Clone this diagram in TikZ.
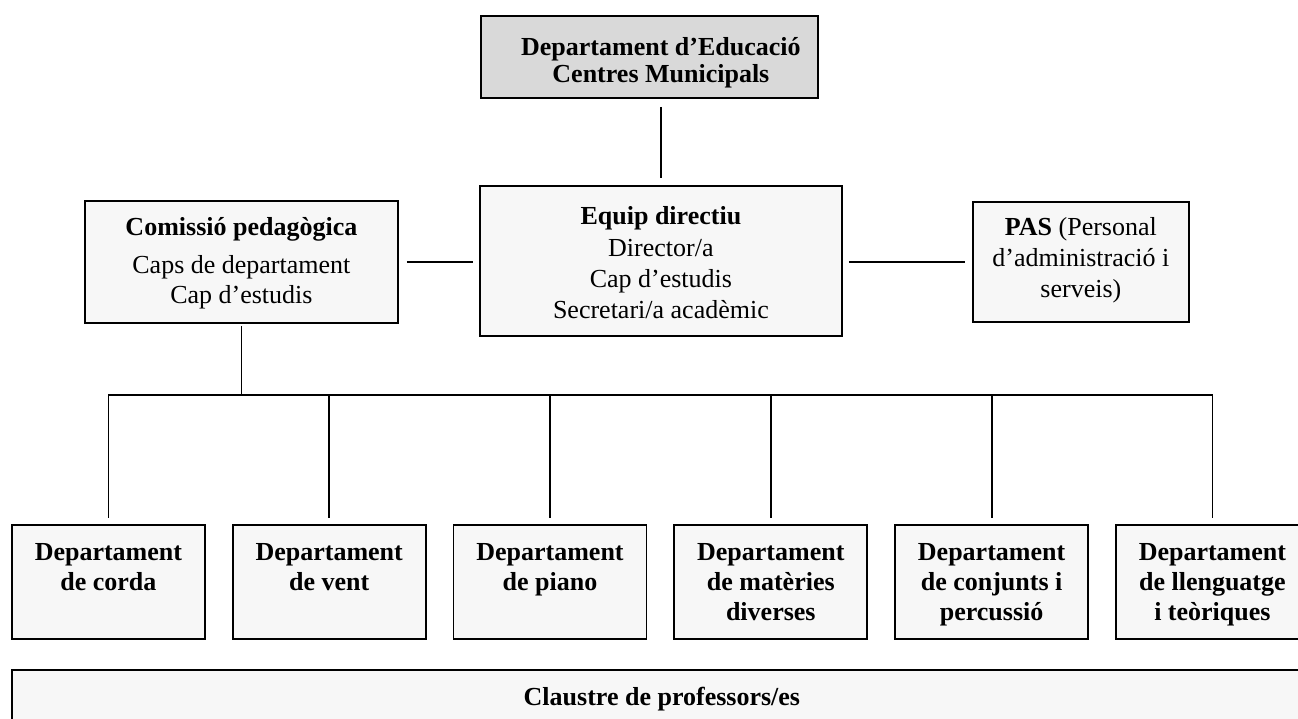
\documentclass[tikz,border=0pt]{standalone}
\usepackage{fontspec}
\setmainfont{Liberation Serif}
\definecolor{boxfill}{RGB}{247,247,247}
\definecolor{topfill}{RGB}{217,217,217}
\tikzset{
  box/.style={draw=black, line width=1.8pt, fill=boxfill, inner sep=0pt, anchor=north west},
  conn/.style={draw=black, line width=1.8pt},
}
\newcommand{\boxtext}[5]{\parbox[c][#2][t]{#1}{\fontsize{26}{#3}\selectfont\centering\rule{0pt}{#4}#5}}
\begin{document}
\begin{tikzpicture}[x=1pt,y=-1pt]
\useasboundingbox (0,0) rectangle (1298,718);
\clip (0,0) rectangle (1298,718);
% top level
\node[box, fill=topfill] (top) at (480,15)
  {\boxtext{337pt}{82pt}{27pt}{40pt}{\bfseries\hspace*{23pt}Departament d’Educació\\\hspace*{23pt}Centres Municipals}};
\node[box] (equip) at (479,185)
  {\boxtext{362pt}{150pt}{31pt}{39pt}{\textbf{Equip directiu}\\[1pt]Director/a\\Cap d’estudis\\Secretari/a acadèmic}};
\node[box] (com) at (84,200)
  {\boxtext{313pt}{122pt}{30pt}{35pt}{\textbf{Comissió pedagògica}\\[8pt]Caps de departament\\Cap d’estudis}};
\node[box] (pas) at (972,201)
  {\boxtext{216pt}{120pt}{31pt}{34pt}{\textbf{PAS} (Personal\\d’administració i\\serveis)}};
% departments
\node[box] (d1) at (11,524)
  {\boxtext{193pt}{114pt}{30pt}{36pt}{\bfseries Departament\\de corda}};
\node[box] (d2) at (231.8,524)
  {\boxtext{193pt}{114pt}{30pt}{36pt}{\bfseries Departament\\de vent}};
\node[box] (d3) at (452.6,524)
  {\boxtext{193pt}{114pt}{30pt}{36pt}{\bfseries Departament\\de piano}};
\node[box] (d4) at (673.4,524)
  {\boxtext{193pt}{114pt}{30pt}{36pt}{\bfseries Departament\\de matèries\\diverses}};
\node[box] (d5) at (894.2,524)
  {\boxtext{193pt}{114pt}{30pt}{36pt}{\bfseries Departament\\de conjunts i\\percussió}};
\node[box] (d6) at (1115,524)
  {\boxtext{193pt}{114pt}{30pt}{36pt}{\bfseries Departament\\de llenguatge\\i teòriques}};
\node[box] (claustre) at (11,669)
  {\boxtext{1300pt}{90pt}{30pt}{36pt}{\bfseries Claustre de professors/es}};
% connectors
\draw[conn, shorten <=8pt, shorten >=7pt] (equip.north |- top.south) -- (equip.north);
\draw[conn, shorten <=8pt, shorten >=6pt] (com.east) -- (com.east -| equip.west);
\draw[conn, shorten <=6pt, shorten >=7pt] (equip.east |- pas.west) -- (pas.west);
\coordinate (bus) at ([yshift=-71pt]com.south);
\draw[conn, shorten <=2pt] (com.south) -- (bus);
\draw[conn, line cap=rect] (d1.north |- bus) -- (d6.north |- bus);
\foreach \i in {1,...,6}{
  \draw[conn, shorten >=6pt] (d\i.north |- bus) -- (d\i.north);
}
\end{tikzpicture}
\end{document}
